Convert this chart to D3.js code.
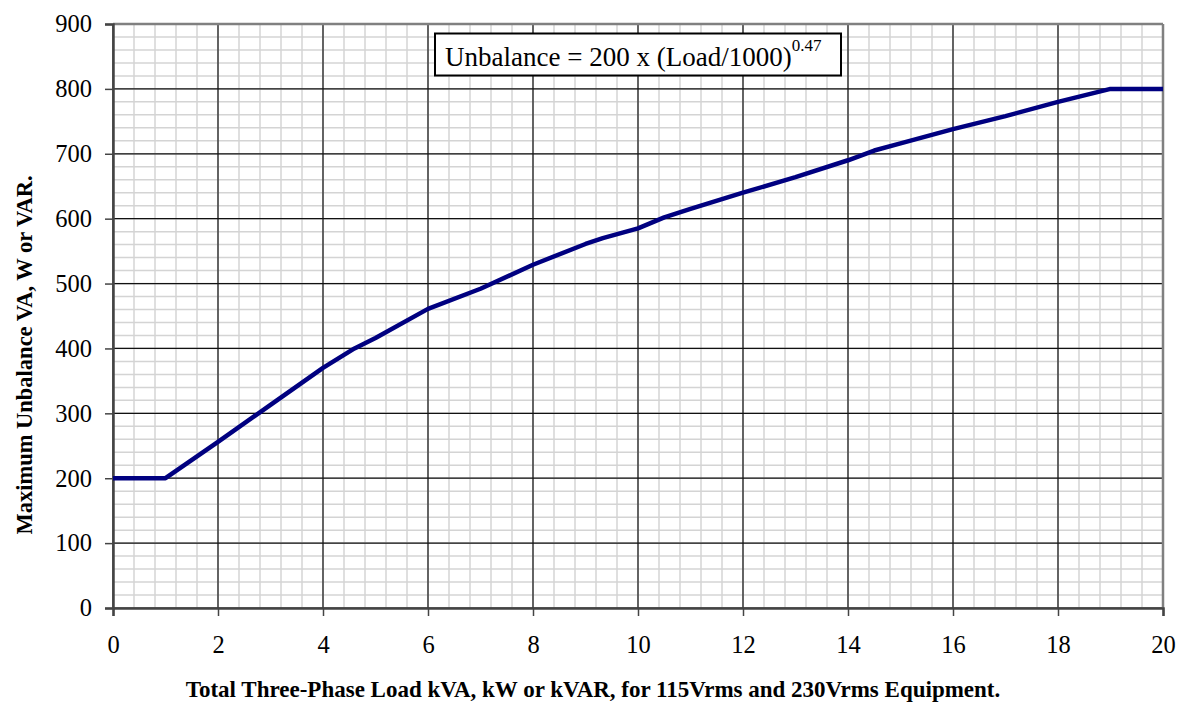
<!DOCTYPE html>
<html>
<head>
<meta charset="utf-8">
<script src="https://cdn.jsdelivr.net/npm/d3@7"></script>
<style>
  html, body { margin: 0; padding: 0; background: #ffffff; }
  svg { display: block; font-family: "Liberation Serif", "Times New Roman", serif; }
</style>
</head>
<body>
<svg id="chart" width="1186" height="706"></svg>
<script>
// Total three-phase load (kVA) and the allowed unbalance (VA)
const loadKVA = [0, 1, 2, 3, 4, 4.6, 5, 6, 7, 8, 9, 9.33, 10, 10.5, 11, 12, 13, 14, 14.5, 15, 16, 17, 18, 19, 20];
const unbalance = [200, 200, 256, 313, 370, 400, 416, 461, 492, 529, 561, 570, 585, 602, 615, 640, 664, 690, 705, 716, 738, 758, 780, 800, 800];

// Axis ticks
const xTicks = [0, 2, 4, 6, 8, 10, 12, 14, 16, 18, 20];
const yTicks = [0, 100, 200, 300, 400, 500, 600, 700, 800, 900];
const xMinorStep = 0.4;
const yMinorStep = 20;

const formulaText = "Unbalance = 200 x (Load/1000)";
const formulaExp = "0.47";
const xTitle = "Total Three-Phase Load kVA, kW or kVAR, for 115Vrms and 230Vrms Equipment.";
const yTitle = "Maximum Unbalance VA, W or VAR.";

const svg = d3.select("#chart");
const W = 1186, H = 706;
const plot = { left: 113, right: 1163, top: 24, bottom: 608 };

const x = d3.scaleLinear().domain([0, 20]).range([plot.left, plot.right]);
const y = d3.scaleLinear().domain([0, 900]).range([plot.bottom, plot.top]);

// Minor grid
const xMinor = d3.range(0, 20 + 1e-9, xMinorStep);
const yMinor = d3.range(0, 900 + 1e-9, yMinorStep);
const grid = svg.append("g");
grid.selectAll("line.xm").data(xMinor).join("line")
  .attr("x1", d => x(d)).attr("x2", d => x(d))
  .attr("y1", plot.top).attr("y2", plot.bottom)
  .attr("stroke", "#d4d4d4").attr("stroke-width", 1.5);
grid.selectAll("line.ym").data(yMinor).join("line")
  .attr("y1", d => y(d)).attr("y2", d => y(d))
  .attr("x1", plot.left).attr("x2", plot.right)
  .attr("stroke", "#d4d4d4").attr("stroke-width", 1.5);

// Major grid
grid.selectAll("line.xM").data(xTicks).join("line")
  .attr("x1", d => x(d)).attr("x2", d => x(d))
  .attr("y1", plot.top).attr("y2", plot.bottom)
  .attr("stroke", "#111").attr("stroke-width", 1.2);
grid.selectAll("line.yM").data(yTicks).join("line")
  .attr("y1", d => y(d)).attr("y2", d => y(d))
  .attr("x1", plot.left).attr("x2", plot.right)
  .attr("stroke", "#111").attr("stroke-width", 1.2);

// Frame: top and right edges
svg.append("line").attr("x1", plot.left).attr("x2", plot.right)
  .attr("y1", plot.top).attr("y2", plot.top)
  .attr("stroke", "#808080").attr("stroke-width", 2.5);
svg.append("line").attr("x1", plot.right).attr("x2", plot.right)
  .attr("y1", plot.top).attr("y2", plot.bottom)
  .attr("stroke", "#808080").attr("stroke-width", 2.5);

// Axes
const xAxis = d3.axisBottom(x).tickValues(xTicks).tickSize(8).tickPadding(20).tickFormat(d3.format("d"));
const yAxis = d3.axisLeft(y).tickValues(yTicks).tickSize(8).tickPadding(13).tickFormat(d3.format("d"));

const gx = svg.append("g").attr("transform", `translate(0,${plot.bottom})`).call(xAxis);
const gy = svg.append("g").attr("transform", `translate(${plot.left},0)`).call(yAxis);
[gx, gy].forEach(g => {
  g.select(".domain").attr("stroke", "#444").attr("stroke-width", 2.5);
  g.selectAll(".tick line").attr("stroke", "#444").attr("stroke-width", 1.5);
  g.selectAll(".tick text")
    .attr("font-family", "Liberation Serif, Times New Roman, serif")
    .attr("font-size", 24.5).attr("fill", "#000");
});
gx.selectAll(".tick text").attr("dy", "0.71em");

// Data line
const line = d3.line().x((d, i) => x(loadKVA[i])).y(d => y(d));
svg.append("path").datum(unbalance)
  .attr("d", line)
  .attr("fill", "none")
  .attr("stroke", "#000080")
  .attr("stroke-width", 4.5)
  .attr("stroke-linejoin", "round");

// Formula box
const box = svg.append("g");
box.append("rect")
  .attr("x", 435).attr("y", 33.5).attr("width", 406).attr("height", 42)
  .attr("fill", "#fff").attr("stroke", "#000").attr("stroke-width", 2);
const ft = box.append("text").attr("x", 445).attr("y", 66)
  .attr("font-size", 27).attr("fill", "#000");
ft.append("tspan").text(formulaText);
ft.append("tspan").attr("font-size", 17).attr("dy", -15).text(formulaExp);

// Axis titles
svg.append("text")
  .attr("x", W / 2).attr("y", 697)
  .attr("text-anchor", "middle")
  .attr("font-weight", "bold").attr("font-size", 23)
  .text(xTitle);
svg.append("text")
  .attr("transform", `translate(32,${H / 2 + 2}) rotate(-90)`)
  .attr("text-anchor", "middle")
  .attr("font-weight", "bold").attr("font-size", 22.5)
  .text(yTitle);
</script>
</body>
</html>
